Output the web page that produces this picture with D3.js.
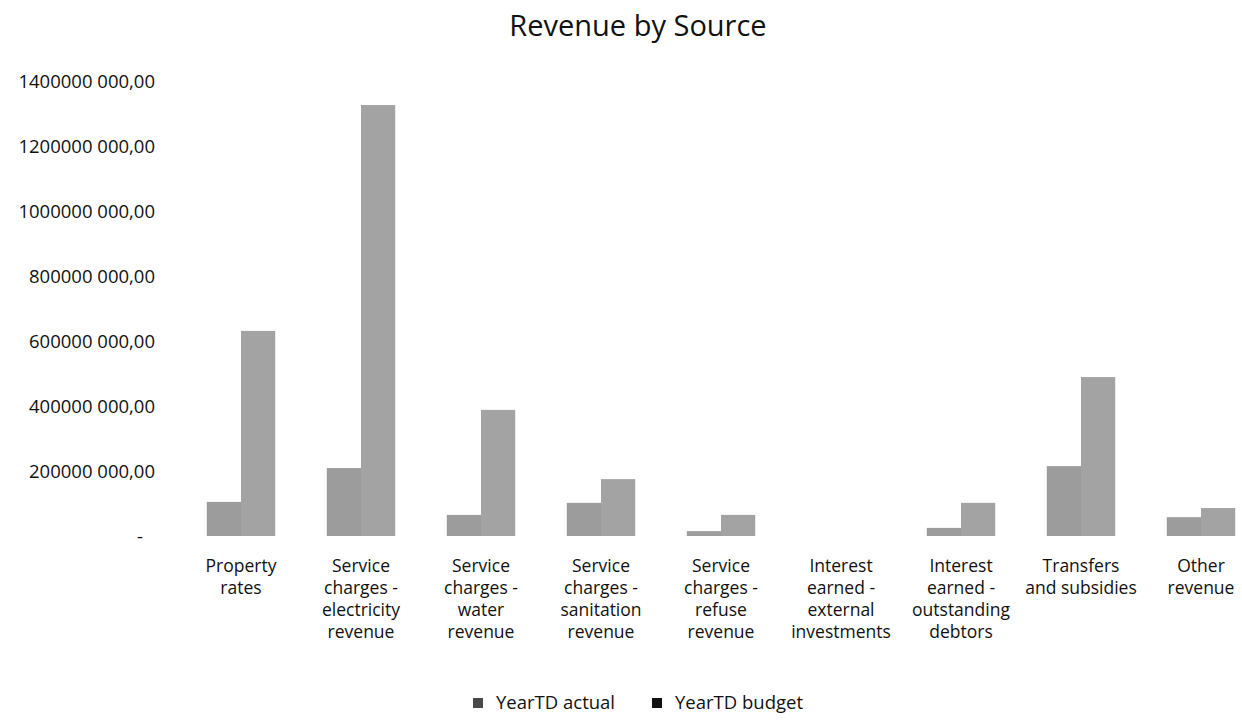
<!DOCTYPE html>
<html>
    <head>
        <meta charset="utf-8"/>
        <title> Revenue by Source </title>
        <script src="https://d3js.org/d3.v7.min.js"></script>
        <style>
            body { margin: 0; background: #fff; }
            text { font-family: "Open Sans", sans-serif; fill: #111; }
            .domain { display: none; }
            .tick line { display: none; }
        </style>
    </head>

    <body>
        <svg id="chart" width="1242" height="721"></svg>

        <script>
            var categories = [
                ["Property", "rates"],
                ["Service", "charges -", "electricity", "revenue"],
                ["Service", "charges -", "water", "revenue"],
                ["Service", "charges -", "sanitation", "revenue"],
                ["Service", "charges -", "refuse", "revenue"],
                ["Interest", "earned -", "external", "investments"],
                ["Interest", "earned -", "outstanding", "debtors"],
                ["Transfers", "and subsidies"],
                ["Other", "revenue"]
            ];
            var seriesNames = ["YearTD actual", "YearTD budget"];
            var actual = [105e6, 209e6, 65e6, 102e6, 15e6, 0, 25e6, 215e6, 58e6];
            var budget = [631e6, 1326e6, 388e6, 175e6, 65e6, 0, 102e6, 489e6, 86e6];
            var yTicks = [0, 200e6, 400e6, 600e6, 800e6, 1000e6, 1200e6, 1400e6];

            var svg = d3.select("#chart");

            var keys = categories.map(function(c) { return c.join(" "); });

            var x = d3.scaleBand()
                .domain(keys)
                .range([181, 1261])
                .paddingInner(0.43)
                .paddingOuter(0.215);

            var xSub = d3.scaleBand()
                .domain(seriesNames)
                .range([0, x.bandwidth()]);

            var y = d3.scaleLinear()
                .domain([0, 1400e6])
                .range([536, 81]);

            // excel style number: 1400000 000,00
            function fmt(v) {
                if (v == 0) return "-";
                var millions = Math.floor(v / 1e6);
                return millions + "000 000,00";
            }

            var yAxis = svg.append("g")
                .attr("transform", "translate(155,0)")
                .call(d3.axisLeft(y).tickValues(yTicks).tickFormat(fmt).tickSize(0).tickPadding(0));
            yAxis.selectAll("text")
                .style("font-size", "18.5px")
                .attr("dy", "0.35em");
            yAxis.selectAll(".tick")
                .filter(function(d) { return d == 0; })
                .select("text")
                .attr("dx", -12);

            var groups = svg.append("g").selectAll("g")
                .data(keys)
                .enter().append("g")
                .attr("transform", function(k) { return "translate(" + x(k) + ",0)"; });

            groups.selectAll("rect")
                .data(function(k, i) {
                    return [
                        {name: seriesNames[0], value: actual[i]},
                        {name: seriesNames[1], value: budget[i]}
                    ];
                })
                .enter().append("rect")
                .attr("x", function(d) { return xSub(d.name); })
                .attr("width", xSub.bandwidth())
                .attr("y", function(d) { return y(d.value); })
                .attr("height", function(d) { return y(0) - y(d.value); })
                .attr("fill", function(d) {
                    if (d.name == "YearTD actual") {
                        return "#9c9c9c";
                    }
                    return "#a3a3a3";
                });

            // category labels, one tspan per line
            var labels = svg.append("g").selectAll("text")
                .data(categories)
                .enter().append("text")
                .attr("text-anchor", "middle")
                .style("font-size", "17.5px")
                .attr("x", function(c, i) { return x(keys[i]) + x.bandwidth() / 2; })
                .attr("y", 572);

            labels.selectAll("tspan")
                .data(function(c) { return c; })
                .enter().append("tspan")
                .attr("x", function() { return d3.select(this.parentNode).attr("x"); })
                .attr("dy", function(line, j) { return j == 0 ? 0 : 22; })
                .text(function(line) { return line; });

            svg.append("text")
                .attr("x", 638)
                .attr("y", 36)
                .attr("text-anchor", "middle")
                .style("font-size", "29px")
                .text("Revenue by Source");

            var legendColors = ["#4a4a4a", "#111111"];
            var legendX = [473, 652];
            var legend = svg.append("g").selectAll("g")
                .data(seriesNames)
                .enter().append("g")
                .attr("transform", function(d, i) { return "translate(" + legendX[i] + ",703)"; });

            legend.append("rect")
                .attr("x", 0)
                .attr("y", -5)
                .attr("width", 10)
                .attr("height", 10)
                .attr("fill", function(d, i) { return legendColors[i]; });

            legend.append("text")
                .attr("x", 23)
                .attr("dy", "0.35em")
                .style("font-size", "18.5px")
                .text(function(d) { return d; });
        </script>
    </body>
</html>
